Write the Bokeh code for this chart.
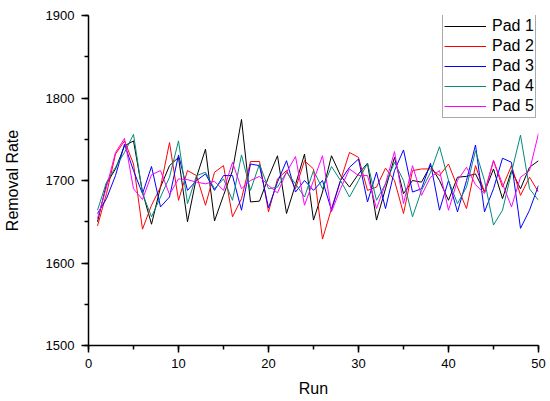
from bokeh.plotting import figure
from bokeh.models import Range1d, SingleIntervalTicker, Legend, LegendItem
from bokeh.embed import file_html
from bokeh.resources import INLINE

runs = list(range(1, 51))

pad1 = [1650, 1696, 1714, 1742, 1748, 1686, 1647, 1692, 1718, 1728,
        1650, 1704, 1738, 1651, 1682, 1712, 1774, 1674, 1675, 1704,
        1730, 1660, 1695, 1732, 1652, 1686, 1730, 1706, 1692, 1708,
        1721, 1652, 1690, 1728, 1684, 1700, 1698, 1718, 1700, 1676,
        1704, 1705, 1708, 1686, 1714, 1678, 1712, 1690, 1716, 1724]

pad2 = [1645, 1684, 1732, 1748, 1720, 1641, 1670, 1692, 1746, 1676,
        1712, 1706, 1670, 1710, 1718, 1656, 1678, 1723, 1723, 1662,
        1702, 1712, 1690, 1724, 1714, 1629, 1666, 1700, 1734, 1728,
        1688, 1692, 1715, 1700, 1660, 1712, 1714, 1714, 1706, 1720,
        1692, 1666, 1718, 1686, 1724, 1692, 1718, 1682, 1704, 1686]

pad3 = [1660, 1678, 1706, 1744, 1712, 1684, 1717, 1668, 1680, 1731,
        1688, 1700, 1708, 1688, 1706, 1706, 1664, 1720, 1718, 1667,
        1698, 1724, 1686, 1700, 1688, 1700, 1664, 1700, 1716, 1726,
        1674, 1710, 1666, 1712, 1737, 1686, 1690, 1721, 1664, 1700,
        1662, 1700, 1743, 1662, 1690, 1727, 1722, 1642, 1664, 1694]

pad4 = [1664, 1698, 1716, 1734, 1756, 1684, 1656, 1680, 1704, 1748,
        1672, 1706, 1710, 1690, 1702, 1676, 1731, 1688, 1720, 1690,
        1692, 1710, 1696, 1680, 1712, 1690, 1717, 1700, 1680, 1700,
        1721, 1676, 1696, 1722, 1700, 1656, 1688, 1710, 1741, 1700,
        1672, 1692, 1736, 1700, 1646, 1664, 1710, 1755, 1690, 1676]

pad5 = [1654, 1692, 1734, 1751, 1690, 1677, 1707, 1712, 1683, 1702,
        1701, 1698, 1696, 1699, 1688, 1722, 1690, 1700, 1705, 1694,
        1685, 1710, 1729, 1670, 1700, 1730, 1662, 1690, 1714, 1706,
        1706, 1666, 1696, 1735, 1672, 1718, 1682, 1704, 1712, 1664,
        1700, 1716, 1695, 1684, 1724, 1696, 1668, 1704, 1712, 1757]

series_names = ["Pad 1", "Pad 2", "Pad 3", "Pad 4", "Pad 5"]
series_values = [pad1, pad2, pad3, pad4, pad5]
series_colors = ["#000000", "#ff0000", "#0000ff", "#008b7a", "#ff00ff"]

FONT = "Liberation Sans"

p = figure(width=550, height=401, output_backend="svg", toolbar_location=None,
           x_range=Range1d(0, 50), y_range=Range1d(1500, 1900),
           min_border_left=87, min_border_right=12, min_border_top=15,
           min_border_bottom=56)
p.outline_line_color = None
p.xgrid.visible = False
p.ygrid.visible = False
p.background_fill_color = "white"
p.border_fill_color = "white"

p.xaxis.ticker = SingleIntervalTicker(interval=10, num_minor_ticks=2)
p.yaxis.ticker = SingleIntervalTicker(interval=100, num_minor_ticks=2)

for ax in (p.xaxis[0], p.yaxis[0]):
    ax.axis_line_width = 1.5
    ax.axis_line_color = "black"
    ax.major_tick_line_width = 1.5
    ax.minor_tick_line_width = 1.5
    ax.major_tick_line_color = "black"
    ax.minor_tick_line_color = "black"
    ax.major_tick_out = 7
    ax.major_tick_in = 0
    ax.minor_tick_out = 4
    ax.minor_tick_in = 0
    ax.major_label_text_font = FONT
    ax.major_label_text_font_size = "13px"
    ax.major_label_text_color = "black"
    ax.axis_label_text_font = FONT
    ax.axis_label_text_font_size = "16px"
    ax.axis_label_text_font_style = "normal"
    ax.axis_label_text_color = "black"

p.xaxis.axis_label = "Run"
p.yaxis.axis_label = "Removal Rate"
p.xaxis.major_label_standoff = 6
p.xaxis.axis_label_standoff = 9
p.yaxis.major_label_standoff = 7
p.yaxis.axis_label_standoff = 22

items = []
for name, vals, col in zip(series_names, series_values, series_colors):
    r = p.line(runs, vals, line_color=col, line_width=1)
    items.append(LegendItem(label=name, renderers=[r]))

legend = Legend(items=items, location=(354, 227))
legend.label_text_font = FONT
legend.label_text_font_size = "16px"
legend.label_text_color = "black"
legend.label_height = 20
legend.glyph_height = 20
legend.glyph_width = 42
legend.label_standoff = 6
legend.spacing = 0
legend.padding = 1
legend.margin = 0
legend.border_line_color = "#555555"
legend.border_line_width = 1
legend.background_fill_color = "white"
legend.background_fill_alpha = 1.0
p.add_layout(legend, "center")

open("out.html", "w").write(file_html(p, INLINE))
